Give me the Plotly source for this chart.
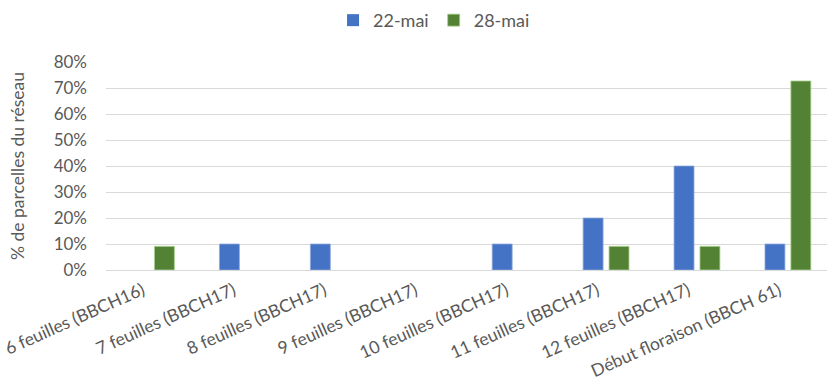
import plotly.graph_objects as go

categories = ["6 feuilles (BBCH16)", "7 feuilles (BBCH17)", "8 feuilles (BBCH17)",
              "9 feuilles (BBCH17)", "10 feuilles (BBCH17)", "11 feuilles (BBCH17)",
              "12 feuilles (BBCH17)", "Début floraison (BBCH 61)"]
mai22 = [0, 0.10, 0.10, 0, 0.10, 0.20, 0.40, 0.10]
mai28 = [0.091, 0, 0, 0, 0, 0.091, 0.091, 0.727]
ytickvals = [0, 0.1, 0.2, 0.3, 0.4, 0.5, 0.6, 0.7, 0.8]
yticktext = ["0%", "10%", "20%", "30%", "40%", "50%", "60%", "70%", "80%"]

FONT = "Lato"
GREY = "#595959"


def edge_widths(vals):
    return [0.8 if v > 0 else 0 for v in vals]


fig = go.Figure()
fig.add_trace(go.Bar(name="22-mai", x=list(range(len(categories))), y=mai22,
                     marker=dict(color="#4472C4",
                                 line=dict(color="#8FAADC", width=edge_widths(mai22)))))
fig.add_trace(go.Bar(name="28-mai", x=list(range(len(categories))), y=mai28,
                     marker=dict(color="#548235",
                                 line=dict(color="#A9D18E", width=edge_widths(mai28)))))

fig.update_layout(
    width=827, height=390,
    margin=dict(l=106, r=0, t=62, b=120),
    paper_bgcolor="white", plot_bgcolor="white",
    barmode="group", bargap=0.43, bargroupgap=0.23,
    font=dict(family=FONT, color=GREY, size=17),
    legend=dict(orientation="h", x=0.455, xanchor="center", y=0.995, yanchor="top",
                yref="container", font=dict(size=18, color=GREY),
                itemwidth=30, traceorder="normal"),
    showlegend=True,
)
fig.update_xaxes(
    range=[-0.5, 7.43],
    tickmode="array", tickvals=list(range(len(categories))), ticktext=categories,
    tickangle=-24, showgrid=False, zeroline=False, showline=False,
    ticks="", tickfont=dict(size=17.5, color=GREY),
    ticklabelshift=-9, ticklabelstandoff=6,
)
fig.update_yaxes(
    range=[0, 0.8], tickmode="array", tickvals=ytickvals, ticktext=yticktext,
    showgrid=True, gridcolor="#D9D9D9", gridwidth=1, zeroline=True,
    zerolinecolor="#D9D9D9", zerolinewidth=1, showline=False,
    tickfont=dict(size=17, color=GREY), ticklabelstandoff=18,
    title=dict(text="% de parcelles du réseau", font=dict(size=17.5, color=GREY), standoff=24),
)
fig.write_html("out.html")
